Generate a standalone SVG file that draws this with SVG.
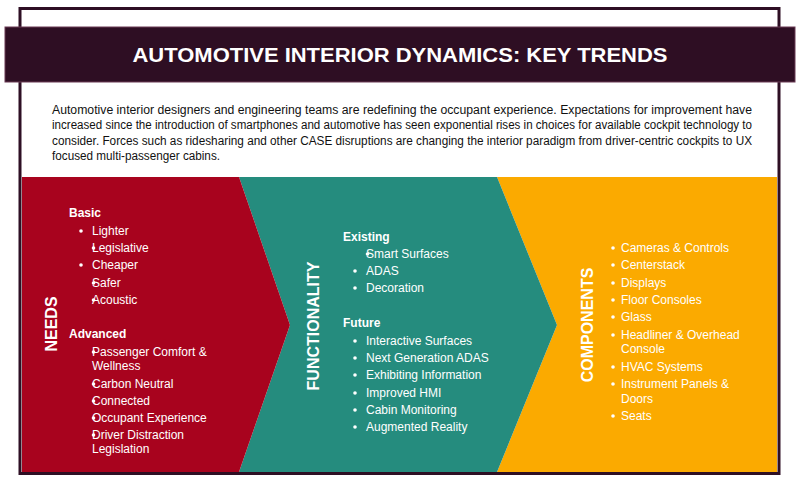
<svg xmlns="http://www.w3.org/2000/svg" width="800" height="480" viewBox="0 0 800 480">
<style>
.t{font-family:"Liberation Sans",Arial,sans-serif;fill:#ffffff;font-size:12px}
.h{font-weight:bold}
.v{font-family:"Liberation Sans",Arial,sans-serif;fill:#ffffff;font-size:16px;font-weight:bold;text-anchor:middle}
.p{font-family:"Liberation Sans",Arial,sans-serif;fill:#111111;font-size:12px}
.b{fill:#ffffff}
</style>
<rect x="0" y="0" width="800" height="480" fill="#ffffff"/>
<g id="frame">
<rect x="20" y="8.5" width="759" height="465" fill="#ffffff" stroke="#2e0f24" stroke-width="3"/>
</g>
<g id="title">
<rect x="5" y="27" width="790" height="55" fill="#2e0e23" stroke="#6a3a55" stroke-width="1"/>
<text x="400" y="62" text-anchor="middle" textLength="535" lengthAdjust="spacingAndGlyphs" style="font-family:'Liberation Sans',Arial,sans-serif;font-size:20px;font-weight:bold;fill:#ffffff">AUTOMOTIVE INTERIOR DYNAMICS: KEY TRENDS</text>
</g>
<g id="intro">
<text class="p" x="52" y="114" textLength="700" lengthAdjust="spacingAndGlyphs">Automotive interior designers and engineering teams are redefining the occupant experience. Expectations for improvement have</text>
<text class="p" x="52" y="129" textLength="700" lengthAdjust="spacingAndGlyphs">increased since the introduction of smartphones and automotive has seen exponential rises in choices for available cockpit technology to</text>
<text class="p" x="52" y="144.5" textLength="700" lengthAdjust="spacingAndGlyphs">consider. Forces such as ridesharing and other CASE disruptions are changing the interior paradigm from driver-centric cockpits to UX</text>
<text class="p" x="52" y="160" textLength="168" lengthAdjust="spacingAndGlyphs">focused multi-passenger cabins.</text>
</g>
<g id="components">
<polygon points="497,177 777,177 777,472 497,472 557,325" fill="#fbaa00"/>
<text class="v" transform="translate(593,325) rotate(-90)">COMPONENTS</text>
<g class="t">
<circle class="b" cx="613" cy="248" r="1.8"/><text class="t" x="621" y="252">Cameras &amp; Controls</text>
<circle class="b" cx="613" cy="265" r="1.8"/><text class="t" x="621" y="269">Centerstack</text>
<circle class="b" cx="613" cy="283" r="1.8"/><text class="t" x="621" y="287">Displays</text>
<circle class="b" cx="613" cy="300" r="1.8"/><text class="t" x="621" y="304">Floor Consoles</text>
<circle class="b" cx="613" cy="317" r="1.8"/><text class="t" x="621" y="321">Glass</text>
<circle class="b" cx="613" cy="335" r="1.8"/><text class="t" x="621" y="339">Headliner &amp; Overhead</text>
<text class="t" x="621" y="353">Console</text>
<circle class="b" cx="613" cy="367" r="1.8"/><text class="t" x="621" y="371">HVAC Systems</text>
<circle class="b" cx="613" cy="384" r="1.8"/><text class="t" x="621" y="388">Instrument Panels &amp;</text>
<text class="t" x="621" y="403">Doors</text>
<circle class="b" cx="613" cy="416" r="1.8"/><text class="t" x="621" y="420">Seats</text>
</g>
</g>
<g id="functionality">
<polygon points="239,177 497,177 557,325 497,472 239,472 290,325" fill="#258c7e"/>
<text class="v" transform="translate(319,326) rotate(-90)">FUNCTIONALITY</text>
<text class="t h" x="343" y="241">Existing</text>
<circle class="b" cx="367.5" cy="254" r="1.8"/><text class="t" x="366" y="258">Smart Surfaces</text>
<circle class="b" cx="355" cy="271" r="1.8"/><text class="t" x="366" y="275">ADAS</text>
<circle class="b" cx="355" cy="288" r="1.8"/><text class="t" x="366" y="292">Decoration</text>
<text class="t h" x="343" y="327">Future</text>
<circle class="b" cx="355" cy="341" r="1.8"/><text class="t" x="366" y="345">Interactive Surfaces</text>
<circle class="b" cx="355" cy="358" r="1.8"/><text class="t" x="366" y="362">Next Generation ADAS</text>
<circle class="b" cx="355" cy="375" r="1.8"/><text class="t" x="366" y="379">Exhibiting Information</text>
<circle class="b" cx="355" cy="393" r="1.8"/><text class="t" x="366" y="397">Improved HMI</text>
<circle class="b" cx="355" cy="410" r="1.8"/><text class="t" x="366" y="414">Cabin Monitoring</text>
<circle class="b" cx="355" cy="427" r="1.8"/><text class="t" x="366" y="431">Augmented Reality</text>
</g>
<g id="needs">
<polygon points="22,177 239,177 290,325 239,472 22,472" fill="#a8031e"/>
<text class="v" transform="translate(57,324) rotate(-90)">NEEDS</text>
<text class="t h" x="69" y="217">Basic</text>
<circle class="b" cx="81" cy="231" r="1.8"/><text class="t" x="92" y="235">Lighter</text>
<circle class="b" cx="93.5" cy="248" r="1.8"/><text class="t" x="92" y="252">Legislative</text>
<circle class="b" cx="81" cy="265" r="1.8"/><text class="t" x="92" y="269">Cheaper</text>
<circle class="b" cx="93.5" cy="283" r="1.8"/><text class="t" x="92" y="287">Safer</text>
<circle class="b" cx="93.5" cy="300" r="1.8"/><text class="t" x="92" y="304">Acoustic</text>
<text class="t h" x="69" y="338">Advanced</text>
<circle class="b" cx="93.5" cy="352" r="1.8"/><text class="t" x="92" y="356">Passenger Comfort &amp;</text>
<text class="t" x="92" y="370">Wellness</text>
<circle class="b" cx="93.5" cy="384" r="1.8"/><text class="t" x="92" y="388">Carbon Neutral</text>
<circle class="b" cx="93.5" cy="401" r="1.8"/><text class="t" x="92" y="405">Connected</text>
<circle class="b" cx="93.5" cy="418" r="1.8"/><text class="t" x="92" y="422">Occupant Experience</text>
<circle class="b" cx="93.5" cy="435" r="1.8"/><text class="t" x="92" y="439">Driver Distraction</text>
<text class="t" x="92" y="453">Legislation</text>
</g>
</svg>
